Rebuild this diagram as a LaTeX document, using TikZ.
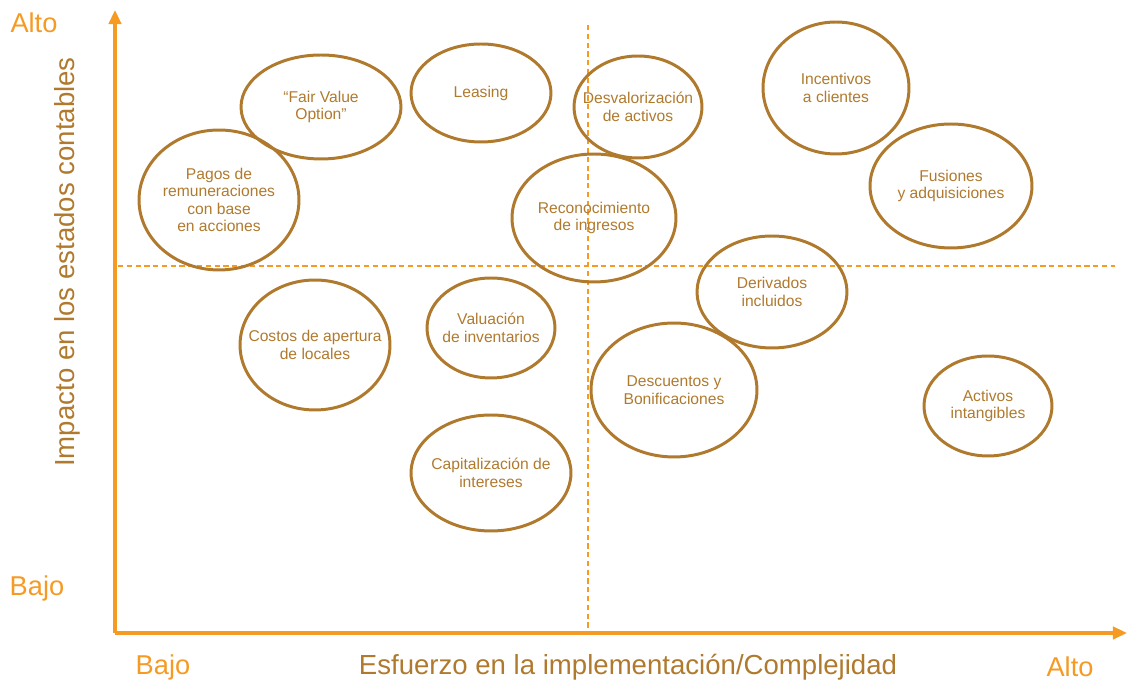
\documentclass[tikz,border=0pt]{standalone}
\usepackage{fontspec}
\setmainfont{Liberation Sans}
\usetikzlibrary{arrows.meta}
\usetikzlibrary{shapes.geometric}

\definecolor{axisorange}{HTML}{F59A23}
\definecolor{ovalbrown}{HTML}{B07A2E}

\begin{document}
\begin{tikzpicture}[x=0.02cm,y=0.02cm,
        axis/.style={draw=axisorange,line width=2.8pt,-{Triangle[length=8pt,width=7pt]}},
        guide/.style={draw=axisorange,line width=0.9pt,dash pattern=on 3pt off 2pt},
        bubble/.style={ellipse,draw=ovalbrown,line width=1.7pt,inner sep=0pt},
        tag/.style={align=center,text=ovalbrown,font=\fontsize{8.9}{10}\selectfont},
        level/.style={text=axisorange,font=\fontsize{15.5}{18}\selectfont},
        title/.style={text=ovalbrown,font=\fontsize{15.7}{18}\selectfont}]

        \useasboundingbox (0,0) rectangle (1127,682);

        % axes and quadrant guides
        \coordinate (O) at (115,49);
        \coordinate (ytop) at (115,672);
        \coordinate (xend) at (1127,49);
        \coordinate (hl) at (118,416);
        \coordinate (hr) at (1115,416);
        \coordinate (vt) at (588,657);
        \coordinate (vb) at (588,49);

        \draw[guide] (hl) -- (hr);
        \draw[guide] (vt) -- (vb);
        \draw[axis] (O) -- (ytop);
        \draw[axis] (O) -- (xend);

        % labels
        \node[level] (yhigh) at (34,659) {Alto};
        \node[level] (ylow)  at (37,94)  {Bajo};
        \node[level] (xlow)  at (163,15) {Bajo};
        \node[level] (xhigh) at (1070,15) {Alto};
        \node[title] (xtitle) at (628,15) {Esfuerzo en la implementación/Complejidad};
        \node[title,rotate=90] (ytitle) at (67,420) {Impacto en los estados contables};

        % topics
        \node[bubble,minimum width=3.2cm,minimum height=2.08cm]  (fvo)     at (321,575) {};
        \node[bubble,minimum width=2.8cm,minimum height=1.96cm]  (leasing) at (481,589) {};
        \node[bubble,minimum width=2.56cm,minimum height=2.04cm] (desval)  at (638,575) {};
        \node[bubble,minimum width=2.92cm,minimum height=2.64cm] (incent)  at (836,594) {};
        \node[bubble,minimum width=3.2cm,minimum height=2.8cm]   (pagos)   at (219,482) {};
        \node[bubble,minimum width=3.28cm,minimum height=2.56cm] (recon)   at (594,464) {};
        \node[bubble,minimum width=3.24cm,minimum height=2.48cm] (fusion)  at (951,496) {};
        \node[bubble,minimum width=3.0cm,minimum height=2.24cm]  (deriv)   at (772,390) {};
        \node[bubble,minimum width=3.0cm,minimum height=2.6cm]   (costos)  at (315,337) {};
        \node[bubble,minimum width=2.56cm,minimum height=2.0cm]  (valua)   at (491,354) {};
        \node[bubble,minimum width=3.32cm,minimum height=2.68cm] (descu)   at (674,292) {};
        \node[bubble,minimum width=2.56cm,minimum height=2.0cm]  (activ)   at (988,276) {};
        \node[bubble,minimum width=3.2cm,minimum height=2.32cm]  (capit)   at (491,209) {};

        \node[tag] (fvo-t)     at (fvo)     {“Fair Value\\Option”};
        \node[tag] (leasing-t) at (leasing) {Leasing};
        \node[tag] (desval-t)  at (desval)  {Desvalorización\\de activos};
        \node[tag] (incent-t)  at (incent)  {Incentivos\\a clientes};
        \node[tag] (pagos-t)   at (pagos)   {Pagos de\\remuneraciones\\con base\\en acciones};
        \node[tag] (recon-t)   at (recon)   {Reconocimiento\\de ingresos};
        \node[tag] (fusion-t)  at (fusion)  {Fusiones\\y adquisiciones};
        \node[tag] (deriv-t)   at (deriv)   {Derivados\\incluidos};
        \node[tag] (costos-t)  at (costos)  {Costos de apertura\\de locales};
        \node[tag] (valua-t)   at (valua)   {Valuación\\de inventarios};
        \node[tag] (descu-t)   at (descu)   {Descuentos y\\Bonificaciones};
        \node[tag] (activ-t)   at (activ)   {Activos\\intangibles};
        \node[tag] (capit-t)   at (capit)   {Capitalización de\\intereses};
\end{tikzpicture}
\end{document}
